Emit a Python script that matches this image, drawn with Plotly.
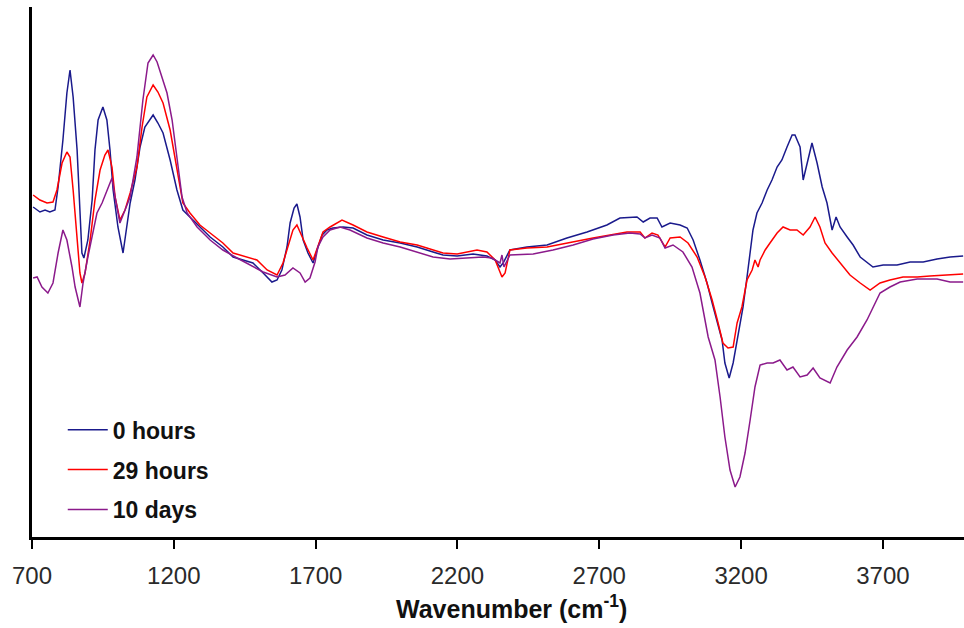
import plotly.graph_objects as go

# FTIR difference spectra: wavenumber (cm-1) and absorbance (arbitrary units)
wn_0h = [704, 728, 746, 763, 781, 792, 809, 823, 834, 845, 859, 869, 876, 883, 897, 912, 922, 933, 950, 964,
         975, 986, 1003, 1021, 1035, 1046, 1063, 1081, 1098, 1127, 1144, 1162, 1187, 1211, 1232, 1268, 1292, 1328,
         1373, 1409, 1444, 1479, 1515, 1546, 1564, 1581, 1599, 1610, 1624, 1634, 1645, 1656, 1673, 1691, 1705,
         1723, 1740, 1761, 1797, 1832, 1881, 1938, 1998, 2058, 2114, 2149, 2199, 2255, 2304, 2333, 2350, 2361,
         2385, 2445, 2516, 2586, 2657, 2727, 2773, 2833, 2855, 2879, 2904, 2921, 2950, 2985, 3010, 3031, 3055,
         3080, 3098, 3115, 3133, 3143, 3158, 3172, 3189, 3207, 3221, 3232, 3242, 3256, 3274, 3292, 3309, 3327,
         3344, 3362, 3380, 3390, 3408, 3419, 3433, 3450, 3468, 3486, 3503, 3521, 3535, 3549, 3574, 3595, 3620,
         3644, 3665, 3701, 3750, 3796, 3842, 3891, 3937, 3983]
abs_0h = [3.30, 3.25, 3.27, 3.25, 3.27, 3.50, 3.97, 4.44, 4.67, 4.40, 3.87, 3.30, 2.84, 2.79, 2.97, 3.37, 3.87, 4.17, 4.30, 4.17,
          3.87, 3.47, 3.10, 2.84, 3.10, 3.34, 3.57, 3.90, 4.10, 4.22, 4.14, 4.04, 3.77, 3.47, 3.27, 3.17, 3.10, 3.00,
          2.90, 2.80, 2.77, 2.74, 2.64, 2.55, 2.57, 2.67, 2.90, 3.14, 3.29, 3.33, 3.20, 2.97, 2.84, 2.74, 2.87,
          3.02, 3.07, 3.09, 3.10, 3.09, 3.02, 2.97, 2.94, 2.90, 2.85, 2.82, 2.81, 2.83, 2.81, 2.77, 2.70, 2.74,
          2.87, 2.90, 2.92, 2.99, 3.05, 3.12, 3.19, 3.20, 3.15, 3.19, 3.19, 3.10, 3.14, 3.12, 3.09, 2.97, 2.77,
          2.54, 2.34, 2.17, 1.97, 1.74, 1.59, 1.74, 2.00, 2.30, 2.60, 2.82, 3.07, 3.24, 3.34, 3.47, 3.57, 3.70,
          3.77, 3.90, 4.02, 4.02, 3.90, 3.57, 3.74, 3.94, 3.74, 3.50, 3.34, 3.07, 3.20, 3.10, 3.00, 2.92, 2.80,
          2.75, 2.70, 2.72, 2.72, 2.75, 2.75, 2.78, 2.80, 2.81]

wn_29h = [704, 728, 753, 774, 788, 806, 823, 834, 845, 859, 869, 876, 887, 905, 922, 940, 957, 968, 982, 993,
          1010, 1028, 1046, 1070, 1088, 1105, 1127, 1144, 1162, 1187, 1211, 1232, 1257, 1292, 1328, 1373, 1409,
          1458, 1493, 1529, 1564, 1585, 1603, 1620, 1634, 1652, 1670, 1691, 1708, 1726, 1751, 1793, 1832, 1881,
          1938, 1998, 2058, 2114, 2149, 2199, 2269, 2304, 2333, 2357, 2368, 2385, 2445, 2516, 2586, 2678, 2798,
          2844, 2861, 2886, 2907, 2932, 2950, 2985, 3013, 3045, 3073, 3098, 3119, 3136, 3154, 3172, 3186, 3203,
          3221, 3239, 3249, 3260, 3267, 3285, 3302, 3327, 3348, 3373, 3397, 3419, 3443, 3461, 3478, 3496, 3521,
          3549, 3584, 3620, 3655, 3690, 3725, 3771, 3821, 3866, 3912, 3983]
abs_29h = [3.42, 3.37, 3.34, 3.35, 3.47, 3.74, 3.85, 3.80, 3.47, 2.97, 2.64, 2.54, 2.64, 2.97, 3.37, 3.67, 3.82, 3.87, 3.70, 3.40,
           3.17, 3.27, 3.44, 3.70, 4.10, 4.40, 4.52, 4.45, 4.34, 4.07, 3.70, 3.34, 3.24, 3.12, 3.04, 2.94, 2.84,
           2.80, 2.77, 2.67, 2.62, 2.74, 2.90, 3.07, 3.12, 3.00, 2.89, 2.77, 2.90, 3.05, 3.10, 3.17, 3.12, 3.05,
           3.00, 2.95, 2.92, 2.87, 2.84, 2.83, 2.87, 2.85, 2.77, 2.60, 2.64, 2.87, 2.89, 2.90, 2.94, 2.99, 3.05,
           3.05, 2.99, 3.04, 3.02, 2.90, 2.99, 3.00, 2.94, 2.80, 2.60, 2.37, 2.14, 1.94, 1.89, 1.90, 2.14, 2.30,
           2.57, 2.67, 2.77, 2.70, 2.77, 2.87, 2.94, 3.04, 3.10, 3.07, 3.07, 3.02, 3.10, 3.20, 3.10, 2.94, 2.84,
           2.74, 2.62, 2.54, 2.47, 2.54, 2.57, 2.60, 2.60, 2.61, 2.62, 2.63]

wn_10d = [704, 718, 735, 756, 774, 792, 809, 823, 841, 852, 869, 880, 897, 915, 929, 947, 964, 982, 993, 1010,
          1028, 1046, 1070, 1091, 1109, 1127, 1141, 1158, 1176, 1194, 1211, 1229, 1247, 1282, 1328, 1373, 1423,
          1469, 1515, 1564, 1592, 1620, 1645, 1663, 1680, 1698, 1708, 1726, 1751, 1786, 1821, 1881, 1938, 1998,
          2058, 2114, 2174, 2234, 2290, 2322, 2350, 2357, 2364, 2385, 2467, 2537, 2608, 2678, 2749, 2808, 2844,
          2861, 2886, 2914, 2932, 2960, 2995, 3027, 3055, 3084, 3108, 3126, 3143, 3161, 3179, 3196, 3214, 3232,
          3249, 3267, 3292, 3313, 3337, 3362, 3383, 3408, 3433, 3454, 3478, 3514, 3538, 3574, 3609, 3644, 3665,
          3690, 3725, 3761, 3821, 3891, 3937, 3983]
abs_10d = [2.59, 2.60, 2.50, 2.44, 2.54, 2.84, 3.07, 2.97, 2.70, 2.50, 2.30, 2.54, 2.80, 3.04, 3.24, 3.34, 3.47, 3.59, 3.40, 3.14,
           3.27, 3.40, 3.80, 4.37, 4.74, 4.82, 4.75, 4.60, 4.44, 4.17, 3.77, 3.40, 3.24, 3.10, 2.97, 2.87, 2.79,
           2.72, 2.65, 2.60, 2.62, 2.69, 2.64, 2.55, 2.59, 2.75, 2.90, 3.00, 3.07, 3.10, 3.07, 2.99, 2.94, 2.90,
           2.85, 2.80, 2.78, 2.79, 2.80, 2.79, 2.74, 2.82, 2.70, 2.82, 2.83, 2.87, 2.92, 2.98, 3.02, 3.04, 3.03,
           2.99, 3.02, 2.99, 2.89, 2.92, 2.85, 2.70, 2.44, 2.00, 1.77, 1.40, 1.00, 0.67, 0.50, 0.60, 0.84, 1.17,
           1.50, 1.72, 1.74, 1.74, 1.77, 1.67, 1.70, 1.60, 1.62, 1.69, 1.59, 1.54, 1.70, 1.87, 2.00, 2.17, 2.30,
           2.44, 2.50, 2.55, 2.58, 2.58, 2.55, 2.55]

series_names = ["0 hours", "29 hours", "10 days"]
series_colors = ["#1a1a8c", "#ff0000", "#8b1a8b"]
x_ticks = [700, 1200, 1700, 2200, 2700, 3200, 3700]

fig = go.Figure()
for i, (x, y) in enumerate([(wn_0h, abs_0h), (wn_29h, abs_29h), (wn_10d, abs_10d)]):
    fig.add_trace(go.Scatter(
        x=x, y=y, mode="lines", name=series_names[i], legendgroup=series_names[i],
        line=dict(color=series_colors[i], width=1.5),
    ))

fig.update_layout(
    width=964, height=628,
    margin=dict(l=32, r=0, t=7, b=91),
    paper_bgcolor="white", plot_bgcolor="white",
    font=dict(family="Liberation Sans, Arial, sans-serif", color="#222222"),
    showlegend=True,
    legend=dict(
        x=0.033, y=0.243, xanchor="left", yanchor="top",
        bgcolor="rgba(0,0,0,0)", borderwidth=0,
        font=dict(size=23, color="#111111", weight="bold"),
        tracegroupgap=7, traceorder="grouped", itemwidth=40,
    ),
    xaxis=dict(
        range=[700, 3986], tickvals=x_ticks, ticktext=[str(t) for t in x_ticks],
        showline=True, linecolor="black", linewidth=2.5,
        ticks="outside", ticklen=9, tickwidth=2, tickcolor="black",
        tickfont=dict(size=24, color="#2a2a2a"), ticklabelstandoff=6,
        showgrid=False, zeroline=False,
    ),
    yaxis=dict(
        range=[0, 5.30], showline=True, linecolor="black", linewidth=2.5,
        showticklabels=False, ticks="", showgrid=False, zeroline=False,
    ),
    annotations=[dict(
        text="<b>Wavenumber (cm<sup>-1</sup>)</b>", xref="paper", yref="paper",
        x=0.514, y=-0.098, xanchor="center", yanchor="top", showarrow=False,
        font=dict(size=25, color="#111111"),
    )],
)

fig.write_html("out.html")
